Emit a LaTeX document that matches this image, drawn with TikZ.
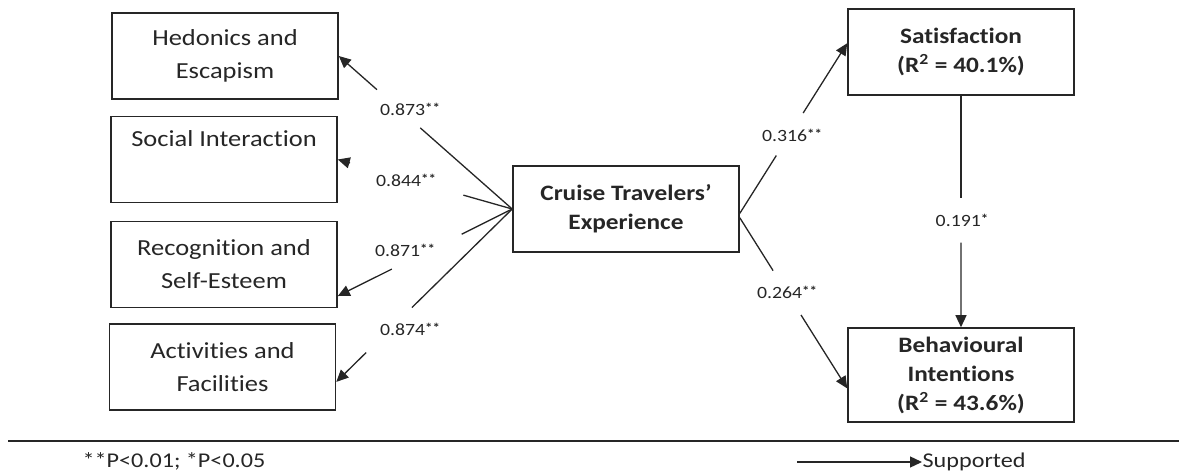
\documentclass[tikz,border=0pt]{standalone}
\usepackage{fontspec}
\setmainfont{Carlito}[FakeStretch=1.15, Ligatures={TeX,NoCommon}]
\usetikzlibrary{calc,arrows.meta}

\tikzset{
  box/.style={draw, line width=0.8pt, minimum width=113pt, minimum height=43pt,
    inner sep=0pt, align=center, font=\fontsize{11.5}{16.5}\selectfont},
  bbox/.style={box, font=\fontsize{11}{14.5}\selectfont\bfseries},
  coef/.style={inner sep=0pt, font=\fontsize{8.6}{10}\selectfont},
  arr/.style={-{Triangle[length=6pt,width=5.5pt]}}
}
\newcommand{\sig}[1]{\raisebox{0.35ex}{\fontsize{6.5}{7}\selectfont\bfseries #1}}

\begin{document}
\begin{tikzpicture}[x=0.5pt, y=-0.5pt, line width=0.65pt, color=black!85]
\useasboundingbox (0,0) rectangle (1179,471);

% Dimension boxes (left)
\node[box] (hed) at (225,56) {Hedonics and\\Escapism};
\node[box] (soc) at (224,159.5) {Social Interaction\\\strut};
\node[box] (rec) at (224,264.5) {Recognition and\\Self-Esteem};
\node[box] (act) at (222.5,367) {Activities and\\Facilities};

% Construct boxes
\node[bbox] (cte) at (626,209) {Cruise Travelers'\\Experience};
\node[bbox] (sat) at (961,52) {Satisfaction\\(R\textsuperscript{2} = 40.1\%)};
\node[bbox, minimum height=47pt] (bi) at (961,375) {Behavioural\\Intentions\\(R\textsuperscript{2} = 43.6\%)};

% Arrow ends on the box sides
\coordinate (rect) at ($(rec.north east)!0.86!(rec.south east)$);
\coordinate (actt) at ($(act.north east)!0.67!(act.south east)$);
\coordinate (cs) at ($(cte.north east)!0.55!(cte.south east)$);
\coordinate (cb) at ($(cte.north east)!0.60!(cte.south east)$);
\coordinate (satt) at ($(sat.north west)!0.40!(sat.south west)$);
\coordinate (bit) at ($(bi.north west)!0.64!(bi.south west)$);

% Loadings: broken lines, gap for the value
\draw (cte.west) -- ($(cte.west)!0.53!(hed.east)$);
\draw[arr] ($(cte.west)!0.78!(hed.east)$) -- (hed.east);
\draw (cte.west) -- ($(cte.west)!0.28!(soc.east)$);
\draw[arr] ($(cte.west)!0.93!(soc.east)$) -- (soc.east);
\draw (cte.west) -- ($(cte.west)!0.29!(rect)$);
\draw[arr] ($(cte.west)!0.69!(rect)$) -- (rect);
\draw (cte.west) -- ($(cte.west)!0.57!(actt)$);
\draw[arr] ($(cte.west)!0.83!(actt)$) -- (actt);

% Paths to outcomes
\draw (cs) -- ($(cs)!0.34!(satt)$);
\draw[arr] ($(cs)!0.59!(satt)$) -- (satt);
\draw (cb) -- ($(cb)!0.31!(bit)$);
\draw[arr] ($(cb)!0.57!(bit)$) -- (bit);
\draw (sat.south) -- ($(sat.south)!0.44!(bi.north)$);
\draw[arr] ($(sat.south)!0.635!(bi.north)$) -- (bi.north);

% Coefficients
\node[coef] (k1) at (410,109) {0.873\sig{**}};
\node[coef] (k2) at (406,180) {0.844\sig{**}};
\node[coef] (k3) at (405,250) {0.871\sig{**}};
\node[coef] (k4) at (410,329) {0.874\sig{**}};
\node[coef] (k5) at (792,135) {0.316\sig{**}};
\node[coef] (k6) at (787,292) {0.264\sig{**}};
\node[coef] (k7) at (962,220) {0.191\sig{*}};

% Rule and legend
\coordinate (rl) at (8,441);
\coordinate (rr) at (1179,441);
\draw[line width=0.85pt] (rl) -- (rr);
\node[anchor=west, inner sep=0pt, font=\fontsize{10.5}{12}\selectfont] (note) at (82,461) {**P<0.01; *P<0.05};
\node[anchor=west, inner sep=0pt, font=\fontsize{10.5}{12}\selectfont] (sup) at (922,462) {Supported};
\coordinate (lg) at (797,462);
\draw[arr] (lg) -- (sup.west);

\end{tikzpicture}
\end{document}
